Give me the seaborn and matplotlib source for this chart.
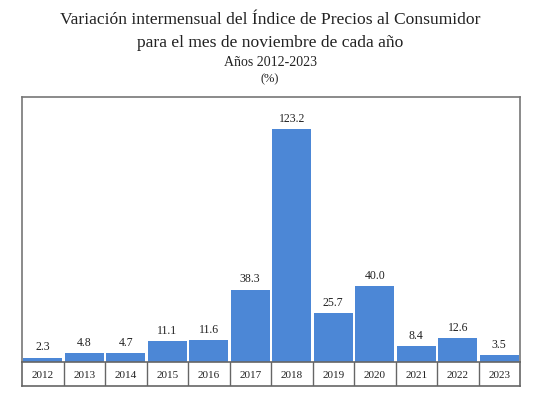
import matplotlib
matplotlib.use("Agg")
import matplotlib.pyplot as plt
import seaborn as sns
import pandas as pd

years = ["2012", "2013", "2014", "2015", "2016", "2017",
         "2018", "2019", "2020", "2021", "2022", "2023"]
values = [2.3, 4.8, 4.7, 11.1, 11.6, 38.3, 123.2, 25.7, 40.0, 8.4, 12.6, 3.5]
title_lines = ["Variación intermensual del Índice de Precios al Consumidor",
               "para el mes de noviembre de cada año",
               "Años 2012-2023",
               "(%)"]

df = pd.DataFrame({"year": years, "value": values})

sns.set_style("white")
plt.rcParams["font.family"] = ["Liberation Serif", "DejaVu Serif"]

fig = plt.figure(figsize=(5.4, 4.03), dpi=100)
L, R = 22 / 540, 520 / 540
ax = fig.add_axes([L, 1 - 362 / 403, R - L, (362 - 97) / 403])
axt = fig.add_axes([L, 1 - 386 / 403, R - L, (386 - 362) / 403])

sns.barplot(data=df, x="year", y="value", color="#4C87D6", saturation=1,
            width=0.95, ax=ax, edgecolor="none")
ax.set_xlim(-0.5, len(years) - 0.5)
ax.set_ylim(0, 140)
ax.set_xticks([])
ax.set_yticks([])
ax.set_xlabel("")
ax.set_ylabel("")
for s in ["left", "right", "top"]:
    ax.spines[s].set_color("#777777")
    ax.spines[s].set_linewidth(1.2)
ax.spines["bottom"].set_visible(False)

for c in ax.containers:
    ax.bar_label(c, labels=[f"{v:.1f}" for v in values], padding=3,
                 fontsize=8.5, color="#222222")

# table row of years
axt.set_xlim(-0.5, len(years) - 0.5)
axt.set_ylim(0, 1)
axt.set_xticks([])
axt.set_yticks([])
for s in axt.spines.values():
    s.set_color("#666666")
    s.set_linewidth(1.2)
for i in range(1, len(years)):
    axt.axvline(i - 0.5, color="#666666", lw=1.0)
for i, y in enumerate(years):
    axt.text(i, 0.45, y, ha="center", va="center", fontsize=8,
             color="#222222")

fig.text(0.5, 1 - 20 / 403, title_lines[0], ha="center", va="center",
         fontsize=12.6, color="#222222")
fig.text(0.5, 1 - 43 / 403, title_lines[1], ha="center", va="center",
         fontsize=12.6, color="#222222")
fig.text(0.5, 1 - 62 / 403, title_lines[2], ha="center", va="center",
         fontsize=10, color="#222222")
fig.text(0.5, 1 - 79 / 403, title_lines[3], ha="center", va="center",
         fontsize=9, color="#222222")

fig.savefig("out.png", dpi=100)
